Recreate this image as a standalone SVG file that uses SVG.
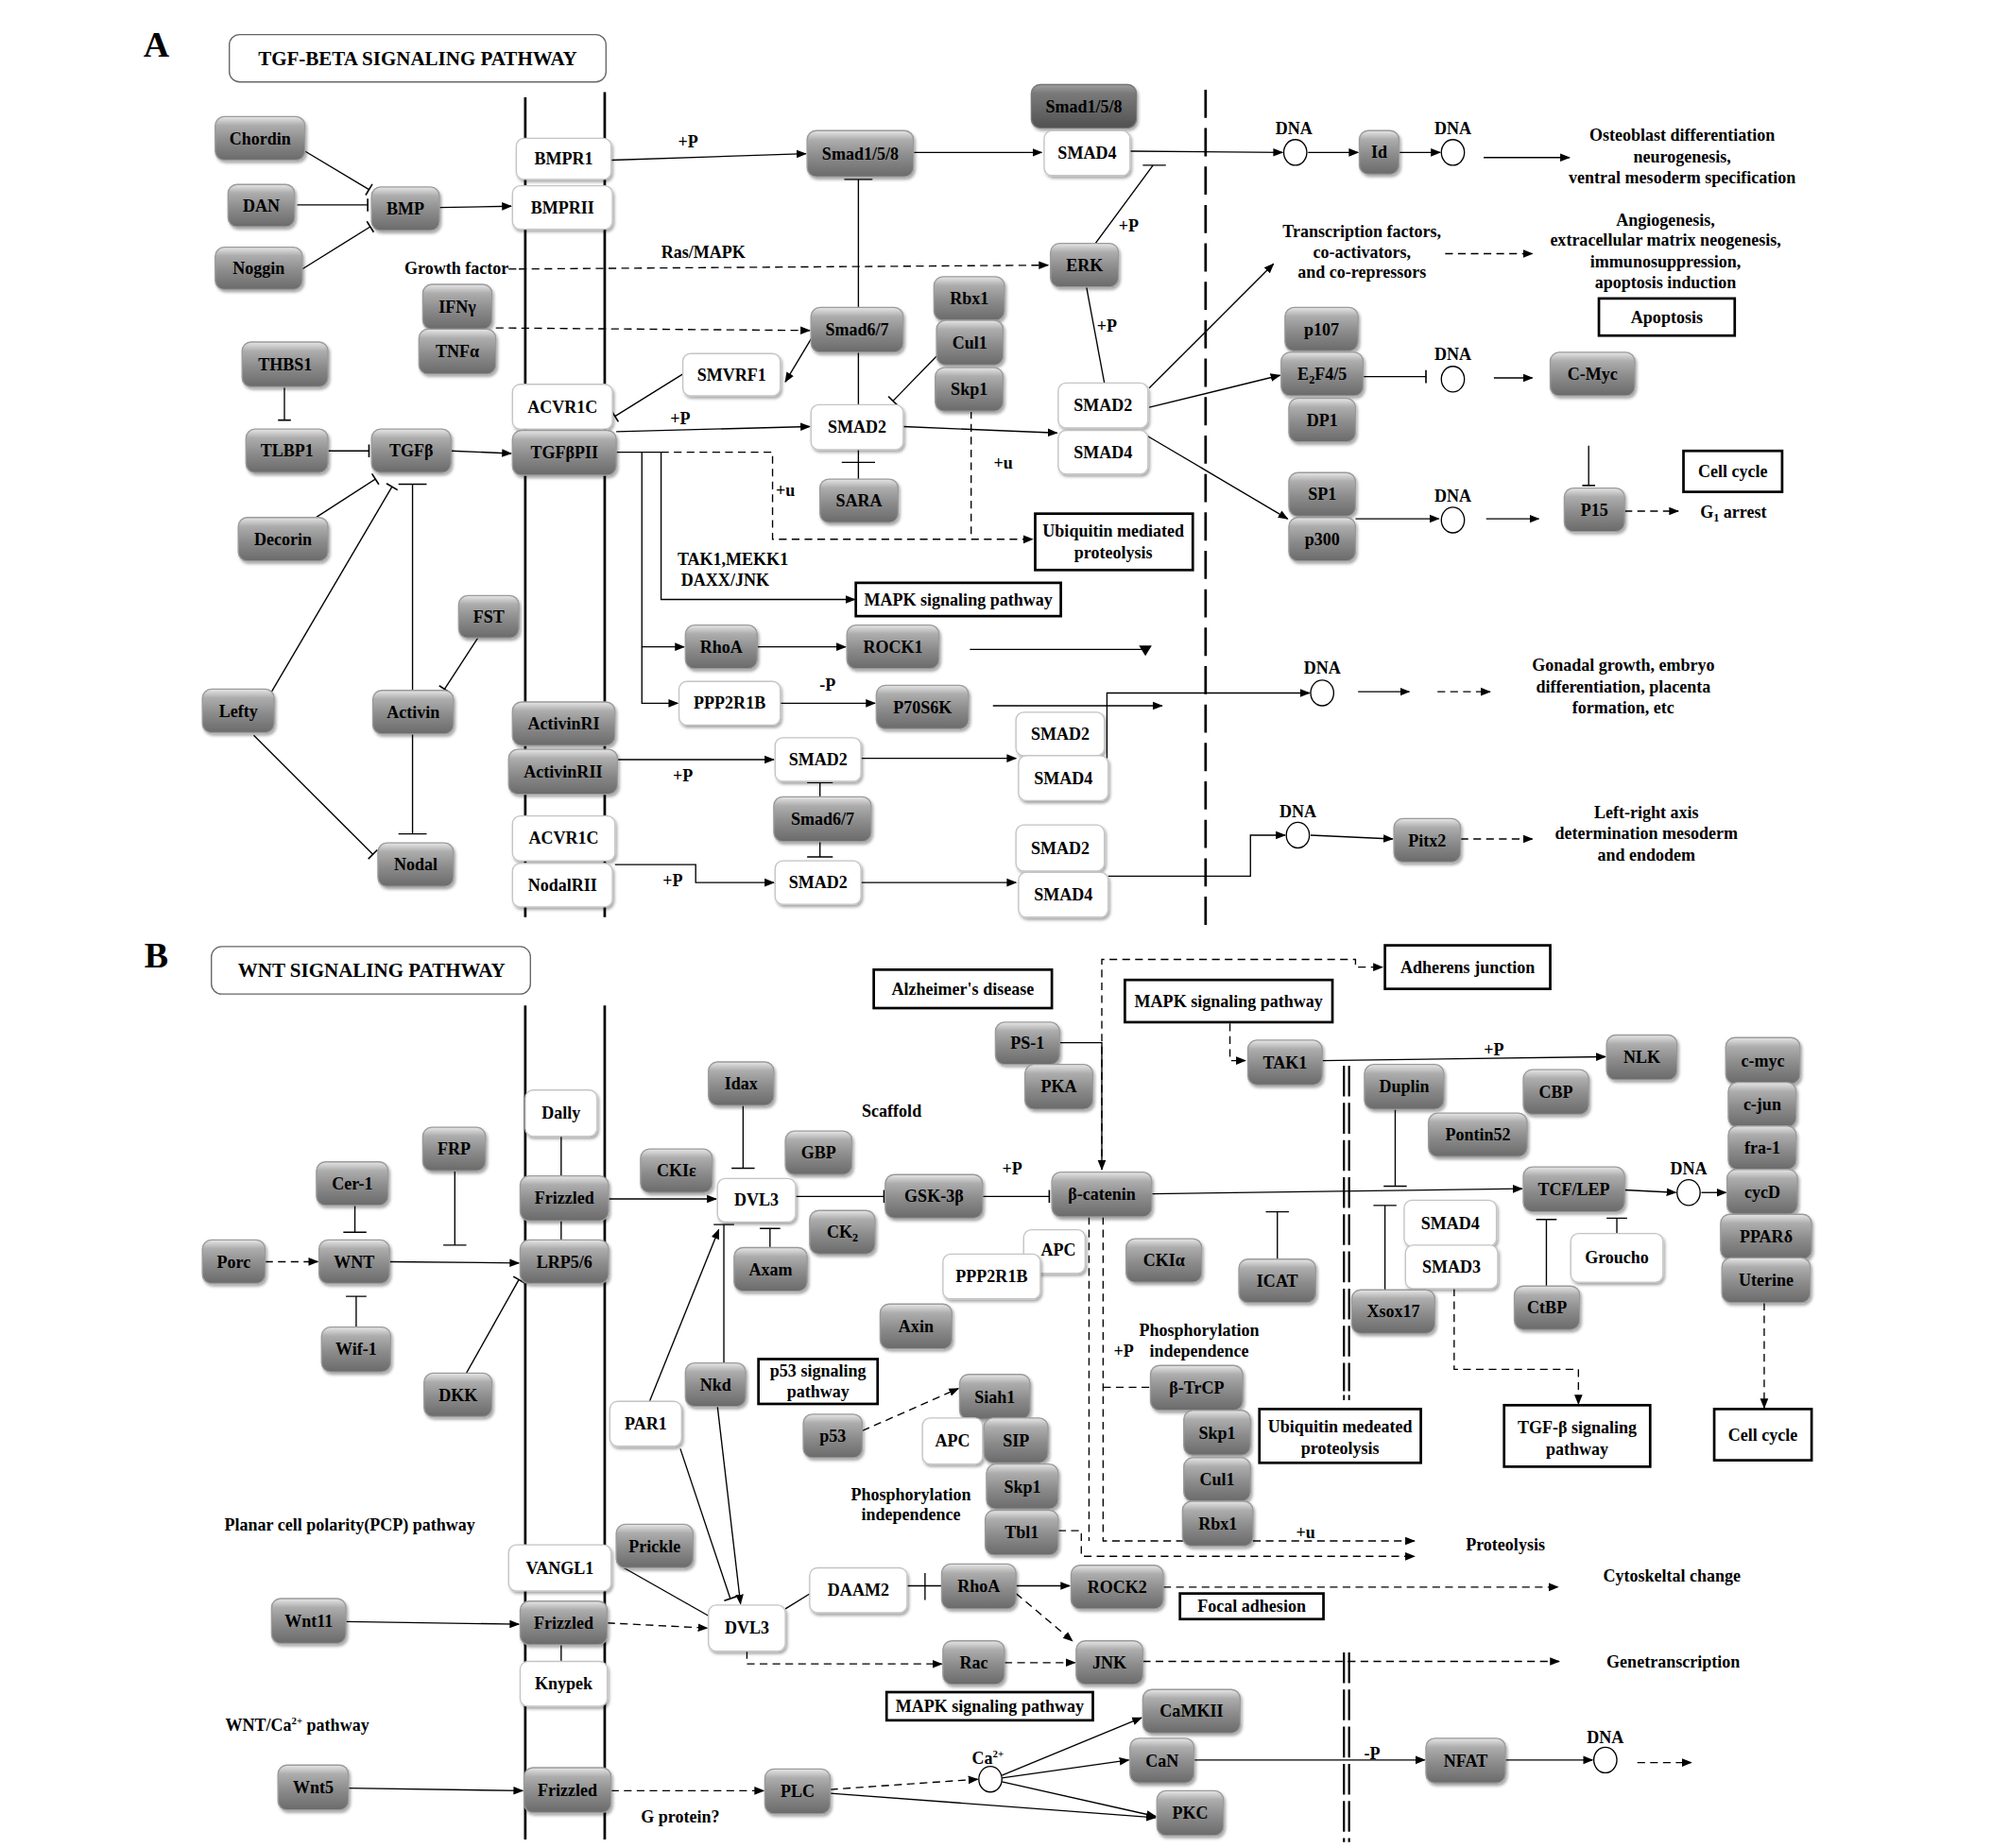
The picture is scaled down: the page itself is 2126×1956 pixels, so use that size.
<svg xmlns="http://www.w3.org/2000/svg" width="2126" height="1956" viewBox="0 0 2126 1956">
<defs>
<linearGradient id="gg" x1="0" y1="0" x2="0" y2="1">
<stop offset="0" stop-color="#e6e6e6"/><stop offset="0.2" stop-color="#adadad"/><stop offset="0.55" stop-color="#8c8c8c"/><stop offset="1" stop-color="#6a6a6a"/>
</linearGradient>
<linearGradient id="gd" x1="0" y1="0" x2="0" y2="1">
<stop offset="0" stop-color="#a0a0a0"/><stop offset="0.2" stop-color="#7a7a7a"/><stop offset="0.6" stop-color="#666"/><stop offset="1" stop-color="#505050"/>
</linearGradient>
<filter id="sh" x="-20%" y="-20%" width="140%" height="150%">
<feDropShadow dx="1.2" dy="1.8" stdDeviation="1" flood-color="#000" flood-opacity="0.35"/>
</filter>
<marker id="ar" viewBox="0 0 10 10" refX="9" refY="5" markerWidth="8" markerHeight="8" orient="auto" markerUnits="userSpaceOnUse"><path d="M0,1 L10,5 L0,9 z" fill="#000"/></marker>
<marker id="tb" viewBox="0 0 4 20" refX="2" refY="10" markerWidth="2" markerHeight="18" orient="auto" markerUnits="userSpaceOnUse"><path d="M2,0 V20" stroke="#000" stroke-width="2.4"/></marker>
<style>
text{font-family:"Liberation Serif","Times New Roman",serif;font-weight:bold;font-size:13.3px;text-anchor:middle;fill:#000}
.g rect{fill:url(#gg);stroke:#9a9a9a;stroke-width:1;filter:url(#sh)}
.gdk rect{fill:url(#gd);stroke:#777;stroke-width:1;filter:url(#sh)}
.w rect{fill:#fff;stroke:#c4c4c4;stroke-width:1;filter:url(#sh)}
.b rect{fill:#fff;stroke:#000;stroke-width:2}
.t rect{fill:#fff;stroke:#666;stroke-width:1}
.c{fill:none;stroke:#000;stroke-width:1}
.d{stroke-dasharray:6,4}
.mem{stroke:#000;stroke-width:2;fill:none}
.big{font-size:28px}
.ttl{font-size:15.5px}
.dna{fill:#fff;stroke:#000;stroke-width:1}
</style>
</defs>
<rect width="2126" height="1956" fill="#fff"/>
<g transform="scale(1.3558)">

<g id="panelA-frame">
<text class="big" x="122" y="44">A</text>
<g id="titleA" class="t"><rect x="179" y="27" width="294" height="37" rx="8"/><text class="ttl" x="326" y="51">TGF-BETA SIGNALING PATHWAY</text></g>
<path class="mem" d="M410,76 V716 M472,72 V716"/>
<path d="M941,70 V722" stroke="#000" stroke-width="2" stroke-dasharray="22,8"/>
</g>

<g id="connectors">
<path class="c" d="M238,118 L288,148" marker-end="url(#tb)"/>
<path class="c" d="M232,160 L287,160" marker-end="url(#tb)"/>
<path class="c" d="M236,210 L289,177" marker-end="url(#tb)"/>
<path class="c" d="M343,162 L399,161" marker-end="url(#ar)"/>
<path class="c" d="M477,125 L629,120" marker-end="url(#ar)"/>
<path class="c" d="M713,119 L813,119" marker-end="url(#ar)"/>
<path class="c" d="M882,118 L1001,119" marker-end="url(#ar)"/>
<path class="c" d="M1021,119 L1060,119" marker-end="url(#ar)"/>
<path class="c" d="M1092,119 L1124,119" marker-end="url(#ar)"/>
<path class="c" d="M1158,123 L1225,123" marker-end="url(#ar)"/>
<path class="c" d="M855,190 L900,129 M892,129 H910"/>
<path class="c" d="M670,240 V140 M659,140 H681"/>
<path class="c" d="M397,210 H403"/>
<path class="c d" d="M405,210 L818,207" marker-end="url(#ar)"/>
<path class="c d" d="M387,256 L632,258" marker-end="url(#ar)"/>
<path class="c" d="M634,263 L613,298" marker-end="url(#ar)"/>
<path class="c" d="M533,292 L480,325" marker-end="url(#tb)"/>
<path class="c" d="M481,337 L632,333" marker-end="url(#ar)"/>
<path class="c" d="M670,275 V316"/>
<path class="c" d="M670,351 V374 M657,361 H683"/>
<path class="c" d="M731,278 L697,313" marker-end="url(#tb)"/>
<path class="c" d="M705,333 L825,338" marker-end="url(#ar)"/>
<path class="c" d="M848,224 L862,299"/>
<path class="c" d="M897,303 L994,206" marker-end="url(#ar)"/>
<path class="c" d="M897,318 L999,293" marker-end="url(#ar)"/>
<path class="c" d="M895,340 L1005,405" marker-end="url(#ar)"/>
<path class="c" d="M1064,294 L1113,294" marker-end="url(#tb)"/>
<path class="c" d="M1166,295 L1196,295" marker-end="url(#ar)"/>
<path class="c" d="M1058,405 L1123,405" marker-end="url(#ar)"/>
<path class="c" d="M1160,405 L1201,405" marker-end="url(#ar)"/>
<path class="c" d="M1240,348 V379" marker-end="url(#tb)"/>
<path class="c d" d="M1268,399 L1310,399" marker-end="url(#ar)"/>
<path class="c d" d="M1128,198 L1196,198" marker-end="url(#ar)"/>
<path class="c" d="M481,353 H516"/>
<path class="c d" d="M516,353 H603 V421 H806" marker-end="url(#ar)"/>
<path class="c d" d="M758,321 V421"/>
<path class="c" d="M516,353 V468 H667" marker-end="url(#ar)"/>
<path class="c" d="M501,353 V505 H534" marker-end="url(#ar)"/>
<path class="c" d="M501,505 V549 H529" marker-end="url(#ar)"/>
<path class="c" d="M591,505 H660" marker-end="url(#ar)"/>
<path class="c" d="M609,549 H683" marker-end="url(#ar)"/>
<path class="c" d="M757,507 H893"/>
<path d="M889,504 L899,504 L894,512 z" fill="#000"/>
<path class="c" d="M775,551 H907" marker-end="url(#ar)"/>
<path class="c" d="M482,593 H604" marker-end="url(#ar)"/>
<path class="c" d="M672,592 H793" marker-end="url(#ar)"/>
<path class="c" d="M640,622 V611 M630,611 H650"/>
<path class="c" d="M640,657 V669 M630,669 H650"/>
<path class="c" d="M480,675 H543 V689 H604" marker-end="url(#ar)"/>
<path class="c" d="M672,689 H793" marker-end="url(#ar)"/>
<path class="c" d="M864,592 V541 H1022" marker-end="url(#ar)"/>
<path class="c" d="M865,684 H976 V652 H1003" marker-end="url(#ar)"/>
<path class="c" d="M1023,652 L1087,655" marker-end="url(#ar)"/>
<path class="c" d="M1060,540 H1100" marker-end="url(#ar)"/>
<path class="c d" d="M1122,540 H1163" marker-end="url(#ar)"/>
<path class="c d" d="M1140,655 H1196" marker-end="url(#ar)"/>
<path class="c" d="M256,352 H288" marker-end="url(#tb)"/>
<path class="c" d="M222,302 V328" marker-end="url(#tb)"/>
<path class="c" d="M352,352 L399,354" marker-end="url(#ar)"/>
<path class="c" d="M245,405 L293,374" marker-end="url(#tb)"/>
<path class="c" d="M212,540 L306,380" marker-end="url(#tb)"/>
<path class="c" d="M322,539 V378 M311,378 H333"/>
<path class="c" d="M373,498 L347,538" marker-end="url(#tb)"/>
<path class="c" d="M322,573 V651 M311,651 H333"/>
<path class="c" d="M198,574 L291,667" marker-end="url(#tb)"/>
<path class="c d" d="M207,985 H248" marker-end="url(#ar)"/>
<path class="c" d="M277,941 V962 M268,962 H286"/>
<path class="c" d="M278,1036 V1012 M270,1012 H286"/>
<path class="c" d="M355,914 V972 M346,972 H364"/>
<path class="c" d="M304,985 L405,986" marker-end="url(#ar)"/>
<path class="c" d="M364,1072 L405,999" marker-end="url(#tb)"/>
<path class="c" d="M438,887 V918 M438,953 V968"/>
<path class="c" d="M475,936 H559" marker-end="url(#ar)"/>
<path class="c" d="M580,863 V912 M571,912 H589"/>
<path class="c" d="M601,974 V959 M593,959 H609"/>
<path class="c" d="M621,934 H690" marker-end="url(#tb)"/>
<path class="c" d="M767,934 H819" marker-end="url(#tb)"/>
<path class="c" d="M827,814 H860 V913" marker-end="url(#ar)"/>
<path class="c" d="M899,932 L1188,928" marker-end="url(#ar)"/>
<path class="c d" d="M860,913 V749 H1058 V755 H1079" marker-end="url(#ar)"/>
<path class="c d" d="M850,950 V1203"/>
<path class="c d" d="M861,950 V1203 H1104" marker-end="url(#ar)"/>
<path class="c d" d="M861,1083 H897"/>
<path class="c d" d="M826,1195 H844 V1215 H1104" marker-end="url(#ar)"/>
<path class="c d" d="M960,799 V828 H972" marker-end="url(#ar)"/>
<path class="c" d="M1032,828 L1253,825" marker-end="url(#ar)"/>
<path class="c" d="M1089,866 V926 M1080,926 H1098"/>
<path class="c" d="M1081,1007 V941 M1072,941 H1090"/>
<path class="c" d="M997,983 V946 M988,946 H1006"/>
<path class="c" d="M1207,1004 V952 M1199,952 H1215"/>
<path class="c" d="M1262,963 V951 M1254,951 H1270"/>
<path class="c" d="M1268,929 L1308,931" marker-end="url(#ar)"/>
<path class="c" d="M1328,931 H1347" marker-end="url(#ar)"/>
<path class="c d" d="M1135,1006 V1069 H1232 V1096" marker-end="url(#ar)"/>
<path class="c d" d="M1377,1017 V1099" marker-end="url(#ar)"/>
<path class="c" d="M507,1094 L561,960" marker-end="url(#ar)"/>
<path class="c" d="M565,1064 V956 M557,956 H573"/>
<path class="c" d="M560,1098 L578,1252" marker-end="url(#ar)"/>
<path class="c" d="M531,1131 L570,1248" marker-end="url(#tb)"/>
<path class="c" d="M487,1224 L554,1262"/>
<path class="c d" d="M474,1267 L552,1271" marker-end="url(#ar)"/>
<path class="c" d="M270,1266 L405,1268" marker-end="url(#ar)"/>
<path class="c" d="M272,1396 L408,1398" marker-end="url(#ar)"/>
<path class="c" d="M438,1284 V1297"/>
<path class="c" d="M613,1256 L634,1243"/>
<path class="c" d="M708,1238 H735 M722,1228 V1249"/>
<path class="c" d="M793,1238 H835" marker-end="url(#ar)"/>
<path class="c d" d="M793,1244 L837,1281" marker-end="url(#ar)"/>
<path class="c d" d="M908,1239 H1216" marker-end="url(#ar)"/>
<path class="c d" d="M583,1289 V1299 H735" marker-end="url(#ar)"/>
<path class="c d" d="M784,1298 H839" marker-end="url(#ar)"/>
<path class="c d" d="M892,1297 H1217" marker-end="url(#ar)"/>
<path class="c d" d="M477,1398 H596" marker-end="url(#ar)"/>
<path class="c d" d="M648,1397 L763,1389" marker-end="url(#ar)"/>
<path class="c" d="M648,1400 L902,1419" marker-end="url(#ar)"/>
<path class="c" d="M782,1386 L891,1341" marker-end="url(#ar)"/>
<path class="c" d="M782,1388 L881,1374" marker-end="url(#ar)"/>
<path class="c" d="M782,1391 L902,1418" marker-end="url(#ar)"/>
<path class="c" d="M932,1374 H1112" marker-end="url(#ar)"/>
<path class="c" d="M1175,1374 H1243" marker-end="url(#ar)"/>
<path class="c d" d="M1278,1376 H1320" marker-end="url(#ar)"/>
<path class="c d" d="M673,1117 L748,1084" marker-end="url(#ar)"/>
</g>

<g id="panelB-frame">
<text class="big" x="122" y="755">B</text>
<g id="titleB" class="t"><rect x="165" y="739" width="249" height="37" rx="8"/><text class="ttl" x="290" y="763">WNT SIGNALING PATHWAY</text></g>
<path class="mem" d="M410,785 V1436 M472,785 V1436"/>
<path d="M1049,832 V1086 M1053,832 V1086 M1049,1290 V1438 M1053,1290 V1438" stroke="#000" stroke-width="1.6" stroke-dasharray="24,5"/>
<path d="M1049,1089 V1093 M1053,1089 V1093" stroke="#000" stroke-width="1.4"/>
</g>

<g id="dna-circles">
<ellipse class="dna" cx="1011" cy="119" rx="9" ry="10"/>
<ellipse class="dna" cx="1134" cy="119" rx="9" ry="10"/>
<ellipse class="dna" cx="1134" cy="296" rx="9" ry="10"/>
<ellipse class="dna" cx="1134" cy="406" rx="9" ry="10"/>
<ellipse class="dna" cx="1032" cy="541" rx="9" ry="10"/>
<ellipse class="dna" cx="1013" cy="652" rx="9" ry="10"/>
<ellipse class="dna" cx="1318" cy="931" rx="9" ry="10"/>
<ellipse class="dna" cx="1253" cy="1374" rx="9" ry="10"/>
<ellipse class="dna" cx="773" cy="1389" rx="9" ry="10"/>
</g>

<g id="n-chordin" class="g"><rect x="168" y="91" width="70" height="34" rx="7"/><text x="203" y="112.5">Chordin</text></g>
<g id="n-dan" class="g"><rect x="178" y="144" width="52" height="33" rx="7"/><text x="204" y="165">DAN</text></g>
<g id="n-noggin" class="g"><rect x="168" y="193" width="68" height="33" rx="7"/><text x="202" y="214">Noggin</text></g>
<g id="n-bmp" class="g"><rect x="290" y="146" width="53" height="34" rx="7"/><text x="316.5" y="167.5">BMP</text></g>
<g id="n-ifng" class="g"><rect x="330" y="222" width="54" height="35" rx="7"/><text x="357" y="244">IFNγ</text></g>
<g id="n-tnfa" class="g"><rect x="327" y="257" width="60" height="35" rx="7"/><text x="357" y="279">TNFα</text></g>
<g id="n-thbs1" class="g"><rect x="189" y="267" width="67" height="35" rx="7"/><text x="222.5" y="289">THBS1</text></g>
<g id="n-tlbp1" class="g"><rect x="192" y="335" width="64" height="34" rx="7"/><text x="224" y="356.5">TLBP1</text></g>
<g id="n-tgfb" class="g"><rect x="290" y="335" width="62" height="34" rx="7"/><text x="321" y="356.5">TGFβ</text></g>
<g id="n-decorin" class="g"><rect x="186" y="404" width="70" height="34" rx="7"/><text x="221" y="425.5">Decorin</text></g>
<g id="n-lefty" class="g"><rect x="158" y="538" width="56" height="34" rx="7"/><text x="186" y="559.5">Lefty</text></g>
<g id="n-activin" class="g"><rect x="291" y="539" width="63" height="34" rx="7"/><text x="322.5" y="560.5">Activin</text></g>
<g id="n-fst" class="g"><rect x="358" y="465" width="47" height="33" rx="7"/><text x="381.5" y="486">FST</text></g>
<g id="n-nodal" class="g"><rect x="295" y="658" width="59" height="34" rx="7"/><text x="324.5" y="679.5">Nodal</text></g>
<g id="n-bmpr1" class="w"><rect x="403" y="108" width="74" height="32" rx="6"/><text x="440" y="128.5">BMPR1</text></g>
<g id="n-bmprii" class="w"><rect x="400" y="145" width="78" height="34" rx="6"/><text x="439" y="166.5">BMPRII</text></g>
<g id="n-acvr1c-a" class="w"><rect x="400" y="300" width="78" height="35" rx="6"/><text x="439" y="322">ACVR1C</text></g>
<g id="n-tgfbpii" class="g"><rect x="400" y="336" width="81" height="35" rx="7"/><text x="440.5" y="358">TGFβPII</text></g>
<g id="n-activinri" class="g"><rect x="400" y="548" width="80" height="34" rx="7"/><text x="440" y="569.5">ActivinRI</text></g>
<g id="n-activinrii" class="g"><rect x="397" y="585" width="85" height="35" rx="7"/><text x="439.5" y="607">ActivinRII</text></g>
<g id="n-acvr1c-b" class="w"><rect x="400" y="637" width="80" height="35" rx="6"/><text x="440" y="659">ACVR1C</text></g>
<g id="n-nodalrii" class="w"><rect x="400" y="674" width="78" height="34" rx="6"/><text x="439" y="695.5">NodalRII</text></g>
<g id="n-smad158-a" class="g"><rect x="630" y="102" width="83" height="36" rx="7"/><text x="671.5" y="124.5">Smad1/5/8</text></g>
<g id="n-smad158-b" class="gdk"><rect x="805" y="66" width="82" height="34" rx="7"/><text x="846" y="87.5">Smad1/5/8</text></g>
<g id="n-smad4-a" class="w"><rect x="815" y="102" width="67" height="35" rx="6"/><text x="848.5" y="124">SMAD4</text></g>
<g id="n-erk" class="g"><rect x="820" y="190" width="53" height="34" rx="7"/><text x="846.5" y="211.5">ERK</text></g>
<g id="n-smad67-a" class="g"><rect x="633" y="240" width="72" height="35" rx="7"/><text x="669" y="262">Smad6/7</text></g>
<g id="n-smvrf1" class="w"><rect x="533" y="276" width="76" height="33" rx="6"/><text x="571" y="297">SMVRF1</text></g>
<g id="n-rbx1-a" class="g"><rect x="729" y="216" width="55" height="34" rx="7"/><text x="756.5" y="237.5">Rbx1</text></g>
<g id="n-cul1-a" class="g"><rect x="731" y="250" width="52" height="35" rx="7"/><text x="757" y="272">Cul1</text></g>
<g id="n-skp1-a" class="g"><rect x="730" y="287" width="53" height="34" rx="7"/><text x="756.5" y="308.5">Skp1</text></g>
<g id="n-smad2-a" class="w"><rect x="633" y="316" width="72" height="35" rx="6"/><text x="669" y="338">SMAD2</text></g>
<g id="n-sara" class="g"><rect x="640" y="374" width="61" height="34" rx="7"/><text x="670.5" y="395.5">SARA</text></g>
<g id="n-smad2-b" class="w"><rect x="826" y="299" width="70" height="35" rx="6"/><text x="861" y="321">SMAD2</text></g>
<g id="n-smad4-b" class="w"><rect x="826" y="336" width="70" height="34" rx="6"/><text x="861" y="357.5">SMAD4</text></g>
<g id="n-ubiq-a" class="b"><rect x="808" y="401" width="123" height="44"/><text x="869" y="419">Ubiquitin mediated</text><text x="869" y="436">proteolysis</text></g>
<g id="n-mapk-a" class="b"><rect x="668" y="455" width="160" height="26"/><text x="748" y="472.5">MAPK signaling pathway</text></g>
<g id="n-rhoa-a" class="g"><rect x="535" y="488" width="56" height="34" rx="7"/><text x="563" y="509.5">RhoA</text></g>
<g id="n-rock1" class="g"><rect x="661" y="488" width="72" height="34" rx="7"/><text x="697" y="509.5">ROCK1</text></g>
<g id="n-ppp2r1b-a" class="w"><rect x="530" y="532" width="79" height="34" rx="6"/><text x="569.5" y="553.5">PPP2R1B</text></g>
<g id="n-p70s6k" class="g"><rect x="684" y="535" width="72" height="34" rx="7"/><text x="720" y="556.5">P70S6K</text></g>
<g id="n-smad2-c" class="w"><rect x="605" y="576" width="67" height="34" rx="6"/><text x="638.5" y="597.5">SMAD2</text></g>
<g id="n-smad67-b" class="g"><rect x="604" y="622" width="76" height="35" rx="7"/><text x="642" y="644">Smad6/7</text></g>
<g id="n-smad2-d" class="w"><rect x="605" y="672" width="67" height="34" rx="6"/><text x="638.5" y="693.5">SMAD2</text></g>
<g id="n-smad2-e" class="w"><rect x="793" y="556" width="69" height="34" rx="6"/><text x="827.5" y="577.5">SMAD2</text></g>
<g id="n-smad4-c" class="w"><rect x="795" y="590" width="70" height="35" rx="6"/><text x="830" y="612">SMAD4</text></g>
<g id="n-smad2-f" class="w"><rect x="793" y="644" width="69" height="36" rx="6"/><text x="827.5" y="666.5">SMAD2</text></g>
<g id="n-smad4-d" class="w"><rect x="795" y="681" width="70" height="35" rx="6"/><text x="830" y="703">SMAD4</text></g>
<g id="n-id" class="g"><rect x="1061" y="102" width="31" height="34" rx="7"/><text x="1076.5" y="123.5">Id</text></g>
<g id="n-p107" class="g"><rect x="1003" y="240" width="57" height="34" rx="7"/><text x="1031.5" y="261.5">p107</text></g>
<g id="n-e2f45" class="g"><rect x="1000" y="275" width="64" height="34" rx="7"/><text x="1032" y="296.5">E<tspan font-size="9" dy="3">2</tspan><tspan dy="-3">F4/5</tspan></text></g>
<g id="n-dp1" class="g"><rect x="1006" y="311" width="52" height="34" rx="7"/><text x="1032" y="332.5">DP1</text></g>
<g id="n-cmyc-a" class="g"><rect x="1210" y="275" width="66" height="34" rx="7"/><text x="1243" y="296.5">C-Myc</text></g>
<g id="n-sp1" class="g"><rect x="1006" y="369" width="52" height="34" rx="7"/><text x="1032" y="390.5">SP1</text></g>
<g id="n-p300" class="g"><rect x="1006" y="404" width="52" height="34" rx="7"/><text x="1032" y="425.5">p300</text></g>
<g id="n-p15" class="g"><rect x="1221" y="381" width="47" height="34" rx="7"/><text x="1244.5" y="402.5">P15</text></g>
<g id="n-pitx2" class="g"><rect x="1088" y="639" width="52" height="34" rx="7"/><text x="1114" y="660.5">Pitx2</text></g>
<g id="n-apoptosis" class="b"><rect x="1248" y="233" width="106" height="29"/><text x="1301" y="252">Apoptosis</text></g>
<g id="n-cellcycle-a" class="b"><rect x="1314" y="352" width="77" height="32"/><text x="1352.5" y="372.5">Cell cycle</text></g>

<g id="labels-a">
<text x="397" y="214" style="text-anchor:end">Growth factor</text>
<text x="549" y="201">Ras/MAPK</text>
<text x="537" y="115">+P</text>
<text x="881" y="181">+P</text>
<text x="864" y="259">+P</text>
<text x="531" y="331">+P</text>
<text x="613" y="387">+u</text>
<text x="783" y="366">+u</text>
<text x="572" y="441">TAK1,MEKK1</text>
<text x="566" y="457">DAXX/JNK</text>
<text x="646" y="539">-P</text>
<text x="533" y="610">+P</text>
<text x="525" y="692">+P</text>
<text x="1010" y="105">DNA</text>
<text x="1134" y="105">DNA</text>
<text x="1134" y="281">DNA</text>
<text x="1134" y="392">DNA</text>
<text x="1032" y="526">DNA</text>
<text x="1013" y="638">DNA</text>
<text x="1313" y="110">Osteoblast differentiation</text>
<text x="1313" y="127">neurogenesis,</text>
<text x="1313" y="143">ventral mesoderm specification</text>
<text x="1063" y="185">Transcription factors,</text>
<text x="1063" y="201">co-activators,</text>
<text x="1063" y="217">and co-repressors</text>
<text x="1300" y="176">Angiogenesis,</text>
<text x="1300" y="192">extracellular matrix neogenesis,</text>
<text x="1300" y="209">immunosuppression,</text>
<text x="1300" y="225">apoptosis induction</text>
<text x="1353" y="404">G<tspan font-size="9" dy="3">1</tspan><tspan dy="-3"> arrest</tspan></text>
<text x="1267" y="524">Gonadal growth, embryo</text>
<text x="1267" y="541">differentiation, placenta</text>
<text x="1267" y="557">formation, etc</text>
<text x="1285" y="639">Left-right axis</text>
<text x="1285" y="655">determination mesoderm</text>
<text x="1285" y="672">and endodem</text>
</g>

<g id="n-porc" class="g"><rect x="158" y="968" width="49" height="34" rx="7"/><text x="182.5" y="989.5">Porc</text></g>
<g id="n-wnt" class="g"><rect x="249" y="968" width="55" height="34" rx="7"/><text x="276.5" y="989.5">WNT</text></g>
<g id="n-cer1" class="g"><rect x="247" y="907" width="56" height="34" rx="7"/><text x="275" y="928.5">Cer-1</text></g>
<g id="n-wif1" class="g"><rect x="251" y="1036" width="54" height="35" rx="7"/><text x="278" y="1058">Wif-1</text></g>
<g id="n-frp" class="g"><rect x="330" y="880" width="49" height="34" rx="7"/><text x="354.5" y="901.5">FRP</text></g>
<g id="n-dkk" class="g"><rect x="331" y="1072" width="53" height="34" rx="7"/><text x="357.5" y="1093.5">DKK</text></g>
<g id="n-dally" class="w"><rect x="410" y="851" width="56" height="36" rx="6"/><text x="438" y="873.5">Dally</text></g>
<g id="n-frizzled-1" class="g"><rect x="406" y="918" width="69" height="35" rx="7"/><text x="440.5" y="940">Frizzled</text></g>
<g id="n-lrp56" class="g"><rect x="406" y="968" width="69" height="34" rx="7"/><text x="440.5" y="989.5">LRP5/6</text></g>
<g id="n-ckie" class="g"><rect x="500" y="897" width="56" height="34" rx="7"/><text x="528" y="918.5">CKIε</text></g>
<g id="n-idax" class="g"><rect x="553" y="829" width="51" height="34" rx="7"/><text x="578.5" y="850.5">Idax</text></g>
<g id="n-dvl3-a" class="w"><rect x="560" y="920" width="61" height="34" rx="6"/><text x="590.5" y="941.5">DVL3</text></g>
<g id="n-gbp" class="g"><rect x="613" y="883" width="52" height="34" rx="7"/><text x="639" y="904.5">GBP</text></g>
<g id="n-ck2" class="g"><rect x="632" y="945" width="51" height="34" rx="7"/><text x="657.5" y="966.5">CK<tspan font-size="9" dy="3">2</tspan></text></g>
<g id="n-axam" class="g"><rect x="573" y="974" width="57" height="34" rx="7"/><text x="601.5" y="995.5">Axam</text></g>
<g id="n-gsk3b" class="g"><rect x="691" y="917" width="76" height="34" rx="7"/><text x="729" y="938.5">GSK-3β</text></g>
<g id="n-alz" class="b"><rect x="682" y="757" width="139" height="30"/><text x="751.5" y="776.5">Alzheimer's disease</text></g>
<g id="n-ps1" class="g"><rect x="777" y="798" width="50" height="33" rx="7"/><text x="802" y="819">PS-1</text></g>
<g id="n-pka" class="g"><rect x="800" y="831" width="53" height="35" rx="7"/><text x="826.5" y="853">PKA</text></g>
<g id="n-bcatenin" class="g"><rect x="821" y="915" width="78" height="35" rx="7"/><text x="860" y="937">β-catenin</text></g>
<g id="n-apc-a" class="w"><rect x="799" y="960" width="48" height="34" rx="6"/><text x="826" y="980">APC</text></g>
<g id="n-ppp2r1b-b" class="w"><rect x="736" y="979" width="76" height="35" rx="6"/><text x="774" y="1001">PPP2R1B</text></g>
<g id="n-ckia" class="g"><rect x="879" y="967" width="59" height="34" rx="7"/><text x="908.5" y="988.5">CKIα</text></g>
<g id="n-icat" class="g"><rect x="967" y="983" width="60" height="34" rx="7"/><text x="997" y="1004.5">ICAT</text></g>
<g id="n-axin" class="g"><rect x="687" y="1018" width="56" height="35" rx="7"/><text x="715" y="1040">Axin</text></g>
<g id="n-nkd" class="g"><rect x="535" y="1064" width="47" height="34" rx="7"/><text x="558.5" y="1085.5">Nkd</text></g>
<g id="n-p53box" class="b"><rect x="592" y="1061" width="93" height="35"/><text x="638.5" y="1075">p53 signaling</text><text x="638.5" y="1091">pathway</text></g>
<g id="n-par1" class="w"><rect x="476" y="1094" width="56" height="35" rx="6"/><text x="504" y="1116">PAR1</text></g>
<g id="n-p53" class="g"><rect x="627" y="1104" width="46" height="34" rx="7"/><text x="650" y="1125.5">p53</text></g>
<g id="n-siah1" class="g"><rect x="749" y="1073" width="55" height="35" rx="7"/><text x="776.5" y="1095">Siah1</text></g>
<g id="n-apc-b" class="w"><rect x="720" y="1107" width="47" height="36" rx="6"/><text x="743.5" y="1129.5">APC</text></g>
<g id="n-sip" class="g"><rect x="768" y="1107" width="50" height="35" rx="7"/><text x="793" y="1129">SIP</text></g>
<g id="n-skp1-b" class="g"><rect x="770" y="1143" width="56" height="35" rx="7"/><text x="798" y="1165">Skp1</text></g>
<g id="n-tbl1" class="g"><rect x="769" y="1179" width="57" height="35" rx="7"/><text x="797.5" y="1201">Tbl1</text></g>
<g id="n-btrcp" class="g"><rect x="898" y="1066" width="72" height="35" rx="7"/><text x="934" y="1088">β-TrCP</text></g>
<g id="n-skp1-c" class="g"><rect x="924" y="1101" width="52" height="35" rx="7"/><text x="950" y="1123">Skp1</text></g>
<g id="n-cul1-b" class="g"><rect x="924" y="1138" width="52" height="34" rx="7"/><text x="950" y="1159.5">Cul1</text></g>
<g id="n-rbx1-b" class="g"><rect x="923" y="1172" width="55" height="35" rx="7"/><text x="950.5" y="1194">Rbx1</text></g>
<g id="n-ubiq-b" class="b"><rect x="983" y="1100" width="126" height="42"/><text x="1046" y="1118">Ubiquitin medeated</text><text x="1046" y="1135">proteolysis</text></g>
<g id="n-mapk-b1" class="b"><rect x="878" y="765" width="162" height="33"/><text x="959" y="786.5">MAPK signaling pathway</text></g>
<g id="n-adherens" class="b"><rect x="1081" y="738" width="129" height="34"/><text x="1145.5" y="759.5">Adherens junction</text></g>
<g id="n-tak1" class="g"><rect x="974" y="812" width="58" height="35" rx="7"/><text x="1003" y="834">TAK1</text></g>
<g id="n-nlk" class="g"><rect x="1254" y="808" width="55" height="35" rx="7"/><text x="1281.5" y="830">NLK</text></g>
<g id="n-duplin" class="g"><rect x="1065" y="831" width="62" height="35" rx="7"/><text x="1096" y="853">Duplin</text></g>
<g id="n-cbp" class="g"><rect x="1189" y="835" width="51" height="35" rx="7"/><text x="1214.5" y="857">CBP</text></g>
<g id="n-pontin52" class="g"><rect x="1115" y="869" width="77" height="34" rx="7"/><text x="1153.5" y="890.5">Pontin52</text></g>
<g id="n-cmyc-b" class="g"><rect x="1347" y="810" width="58" height="36" rx="7"/><text x="1376" y="832.5">c-myc</text></g>
<g id="n-cjun" class="g"><rect x="1349" y="845" width="53" height="35" rx="7"/><text x="1375.5" y="867">c-jun</text></g>
<g id="n-fra1" class="g"><rect x="1349" y="879" width="53" height="34" rx="7"/><text x="1375.5" y="900.5">fra-1</text></g>
<g id="n-cycd" class="g"><rect x="1348" y="913" width="55" height="35" rx="7"/><text x="1375.5" y="935">cycD</text></g>
<g id="n-ppard" class="g"><rect x="1343" y="948" width="71" height="35" rx="7"/><text x="1378.5" y="970">PPARδ</text></g>
<g id="n-uterine" class="g"><rect x="1344" y="982" width="69" height="35" rx="7"/><text x="1378.5" y="1004">Uterine</text></g>
<g id="n-tcflep" class="g"><rect x="1189" y="911" width="79" height="35" rx="7"/><text x="1228.5" y="933">TCF/LEP</text></g>
<g id="n-smad4-e" class="w"><rect x="1096" y="937" width="72" height="36" rx="6"/><text x="1132" y="959.5">SMAD4</text></g>
<g id="n-smad3" class="w"><rect x="1097" y="972" width="72" height="34" rx="6"/><text x="1133" y="993.5">SMAD3</text></g>
<g id="n-groucho" class="w"><rect x="1226" y="963" width="72" height="38" rx="6"/><text x="1262" y="986.5">Groucho</text></g>
<g id="n-xsox17" class="g"><rect x="1055" y="1007" width="65" height="34" rx="7"/><text x="1087.5" y="1028.5">Xsox17</text></g>
<g id="n-ctbp" class="g"><rect x="1182" y="1004" width="51" height="34" rx="7"/><text x="1207.5" y="1025.5">CtBP</text></g>
<g id="n-tgfbox" class="b"><rect x="1174" y="1097" width="114" height="48"/><text x="1231" y="1119">TGF-β signaling</text><text x="1231" y="1136">pathway</text></g>
<g id="n-cellcycle-b" class="b"><rect x="1338" y="1100" width="76" height="40"/><text x="1376" y="1124.5">Cell cycle</text></g>
<g id="n-prickle" class="g"><rect x="481" y="1190" width="60" height="34" rx="7"/><text x="511" y="1211.5">Prickle</text></g>
<g id="n-vangl1" class="w"><rect x="397" y="1206" width="80" height="36" rx="6"/><text x="437" y="1228.5">VANGL1</text></g>
<g id="n-wnt11" class="g"><rect x="212" y="1248" width="58" height="35" rx="7"/><text x="241" y="1270">Wnt11</text></g>
<g id="n-frizzled-2" class="g"><rect x="406" y="1250" width="68" height="34" rx="7"/><text x="440" y="1271.5">Frizzled</text></g>
<g id="n-knypek" class="w"><rect x="406" y="1297" width="68" height="35" rx="6"/><text x="440" y="1319">Knypek</text></g>
<g id="n-dvl3-b" class="w"><rect x="553" y="1253" width="60" height="36" rx="6"/><text x="583" y="1275.5">DVL3</text></g>
<g id="n-daam2" class="w"><rect x="632" y="1224" width="76" height="35" rx="6"/><text x="670" y="1246">DAAM2</text></g>
<g id="n-rhoa-b" class="g"><rect x="735" y="1221" width="58" height="35" rx="7"/><text x="764" y="1243">RhoA</text></g>
<g id="n-rock2" class="g"><rect x="836" y="1222" width="72" height="34" rx="7"/><text x="872" y="1243.5">ROCK2</text></g>
<g id="n-focal" class="b"><rect x="921" y="1244" width="112" height="20"/><text x="977" y="1258.5">Focal adhesion</text></g>
<g id="n-rac" class="g"><rect x="736" y="1281" width="48" height="34" rx="7"/><text x="760" y="1302.5">Rac</text></g>
<g id="n-jnk" class="g"><rect x="840" y="1281" width="52" height="34" rx="7"/><text x="866" y="1302.5">JNK</text></g>
<g id="n-mapk-b2" class="b"><rect x="692" y="1321" width="161" height="22"/><text x="772.5" y="1336.5">MAPK signaling pathway</text></g>
<g id="n-wnt5" class="g"><rect x="217" y="1378" width="55" height="35" rx="7"/><text x="244.5" y="1400">Wnt5</text></g>
<g id="n-frizzled-3" class="g"><rect x="409" y="1380" width="68" height="35" rx="7"/><text x="443" y="1402">Frizzled</text></g>
<g id="n-plc" class="g"><rect x="597" y="1381" width="51" height="35" rx="7"/><text x="622.5" y="1403">PLC</text></g>
<g id="n-camkii" class="g"><rect x="892" y="1319" width="76" height="34" rx="7"/><text x="930" y="1340.5">CaMKII</text></g>
<g id="n-can" class="g"><rect x="882" y="1357" width="50" height="35" rx="7"/><text x="907" y="1379">CaN</text></g>
<g id="n-pkc" class="g"><rect x="903" y="1398" width="52" height="35" rx="7"/><text x="929" y="1420">PKC</text></g>
<g id="n-nfat" class="g"><rect x="1113" y="1357" width="62" height="35" rx="7"/><text x="1144" y="1379">NFAT</text></g>

<g id="labels-b">
<text x="696" y="872">Scaffold</text>
<text x="790" y="917">+P</text>
<text x="936" y="1043">Phosphorylation</text>
<text x="936" y="1059">independence</text>
<text x="877" y="1059">+P</text>
<text x="711" y="1171">Phosphorylation</text>
<text x="711" y="1187">independence</text>
<text x="1019" y="1201">+u</text>
<text x="1175" y="1210">Proteolysis</text>
<text x="1305" y="1235">Cytoskeltal change</text>
<text x="1306" y="1302">Genetranscription</text>
<text x="273" y="1195">Planar cell polarity(PCP) pathway</text>
<text x="232" y="1351">WNT/Ca<tspan font-size="8" dy="-5">2+</tspan><tspan dy="5"> pathway</tspan></text>
<text x="531" y="1423">G protein?</text>
<text x="771" y="1377">Ca<tspan font-size="8" dy="-5">2+</tspan></text>
<text x="1071" y="1373">-P</text>
<text x="1166" y="824">+P</text>
<text x="1318" y="917">DNA</text>
<text x="1253" y="1361">DNA</text>
</g>
</g>
</svg>
